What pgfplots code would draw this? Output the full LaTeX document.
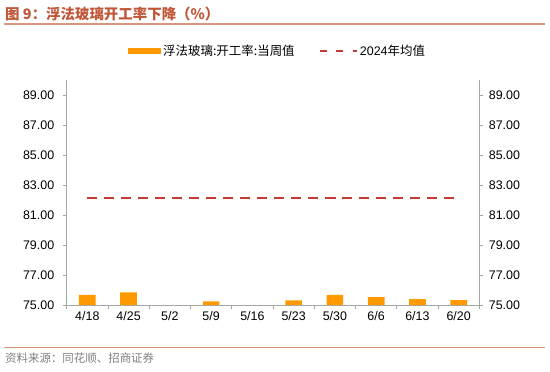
\documentclass[border=0pt]{standalone}
\usepackage{fontspec}
\setmainfont{Liberation Sans}
\newfontfamily\cjk{Noto Sans CJK SC}
\usepackage{pgfplots}
\pgfplotsset{compat=1.18}
\definecolor{barorange}{RGB}{255,153,0}
\definecolor{avgred}{RGB}{196,58,52}
\definecolor{axgray}{RGB}{166,166,166}
\definecolor{titlec}{RGB}{192,86,56}
\definecolor{rulec}{RGB}{218,150,125}
\definecolor{srcgray}{RGB}{128,128,128}
\begin{document}
\begin{tikzpicture}[x=1bp,y=1bp]
\useasboundingbox (0,0) rectangle (550,371);
\node[anchor=west, text=titlec, font=\fontsize{14.5}{16}\selectfont\cjk\bfseries, inner sep=0] at (5,357) {图 9：浮法玻璃开工率下降（\%）};
\draw[rulec, line width=1.2bp] (4,347) -- (545,347);
\draw[rulec, line width=1.2bp] (4,23.3) -- (545,23.3);
\node[anchor=west, text=srcgray, font=\fontsize{11.5}{13}\selectfont\cjk, inner sep=0] at (5,13) {资料来源：同花顺、招商证券};
\begin{axis}[
  at={(66.7bp,66bp)}, anchor=south west, scale only axis,
  width=412.6bp, height=225bp,
  xmin=-0.5, xmax=9.5, ymin=75, ymax=90,
  axis x line*=bottom, axis y line*=left,
  axis line style={axgray, line width=0.9bp},
  xtick={-0.5,0.5,...,9.5}, xticklabels={},
  extra x ticks={0,1,2,3,4,5,6,7,8,9},
  extra x tick labels={4/18,4/25,5/2,5/9,5/16,5/23,5/30,6/6,6/13,6/20},
  extra x tick style={major tick length=0pt, tick style={draw=none}},
  ytick={75,77,...,89},
  tick align=outside, major tick length=4bp,
  tick style={axgray, line width=0.8bp},
  /pgf/number format/assume math mode=true,
  yticklabel={\pgfmathprintnumber[fixed,fixed zerofill,precision=2]{\tick}},
  ticklabel style={font=\fontsize{12.5}{14}\selectfont, text=black},
  yticklabel style={xshift=-5bp},
  xticklabel style={yshift=-3bp},
  legend columns=2,
  legend style={at={(0.1486,1.130)}, anchor=west, draw=none, fill=none,
    inner sep=0pt, font=\fontsize{12.5}{14}\selectfont,
    nodes={inner sep=2bp},
    /tikz/every even column/.append style={column sep=22bp}},
]
\addplot[ybar, bar width=16.7bp, bar shift=0pt, fill=barorange, draw=none,
  legend image code/.code={\fill[barorange] (0bp,-2.8bp) rectangle (33bp,2.8bp);}]
  coordinates {(0,75.67) (1,75.85) (3,75.25) (5,75.31) (6,75.67) (7,75.53) (8,75.40) (9,75.33)};
\addlegendentry{\cjk 浮法玻璃:开工率:当周值}
\addplot[avgred, line width=2.3bp, dash pattern=on 10bp off 7bp, mark=none,
  legend image code/.code={\draw[avgred, line width=2.3bp, dash pattern=on 7bp off 9.5bp] (0bp,0bp) -- (37bp,0bp);}]
  coordinates {(0,82.15) (1,82.15) (2,82.15) (3,82.15) (4,82.15) (5,82.15) (6,82.15) (7,82.15) (8,82.15) (9,82.15)};
\addlegendentry{2024{\cjk 年均值}}
\end{axis}
\begin{axis}[
  at={(66.7bp,66bp)}, anchor=south west, scale only axis,
  width=412.6bp, height=225bp,
  xmin=-0.5, xmax=9.5, ymin=75, ymax=90,
  axis x line=none, axis y line*=right,
  axis line style={axgray, line width=0.9bp},
  ytick={75,77,...,89},
  tick align=outside, major tick length=4bp,
  tick style={axgray, line width=0.8bp},
  /pgf/number format/assume math mode=true,
  yticklabel={\pgfmathprintnumber[fixed,fixed zerofill,precision=2]{\tick}},
  ticklabel style={font=\fontsize{12.5}{14}\selectfont, text=black},
  yticklabel style={xshift=2bp},
]
\end{axis}
\end{tikzpicture}
\end{document}
